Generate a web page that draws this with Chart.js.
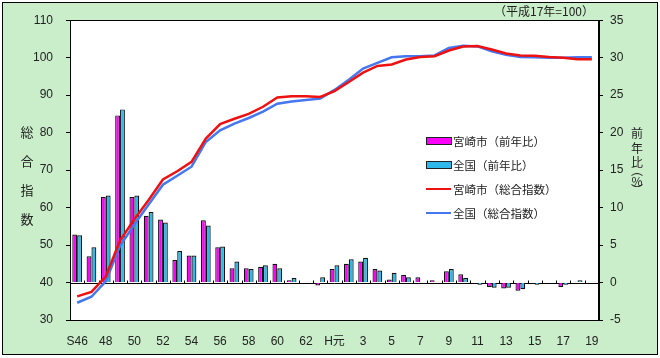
<!DOCTYPE html>
<html><head><meta charset="utf-8">
<script src="https://cdn.jsdelivr.net/npm/chart.js@4.4.0/dist/chart.umd.min.js"></script>
<style>html,body{margin:0;padding:0;background:#fff}</style>
</head><body>
<canvas id="c" width="660" height="358"></canvas>
<script>
const categories = ['S46','47','48','49','50','51','52','53','54','55','56','57','58','59','60','61','62','63',
  'H元','2','3','4','5','6','7','8','9','10','11','12','13','14','15','16','17','18','19'];
const miyazakiYoY = [6.4,3.5,11.4,22.3,11.4,8.9,8.4,3.0,3.6,8.3,4.7,1.9,1.9,2.1,2.5,0.3,-0.1,-0.4,
  1.8,2.5,2.8,1.8,0.4,1.0,0.7,0.3,1.5,1.1,-0.1,-0.6,-0.8,-1.1,-0.1,0.0,-0.6,0.1,0.0];
const zenkokuYoY = [6.3,4.7,11.6,23.1,11.6,9.4,8.0,4.2,3.6,7.6,4.8,2.8,1.8,2.3,1.9,0.6,0.1,0.7,
  2.3,3.1,3.3,1.6,1.3,0.7,-0.1,0.1,1.8,0.6,-0.3,-0.7,-0.7,-0.9,-0.3,-0.1,-0.3,0.3,0.1];
const miyazakiIndex = [36.3,37.5,41.6,51.2,56.9,62.0,67.5,69.7,72.2,78.4,82.3,83.7,85.0,86.9,89.4,89.7,89.7,89.5,
  91.1,93.5,96.0,97.8,98.2,99.5,100.2,100.4,101.9,103.0,103.1,102.2,101.1,100.6,100.5,100.2,100.0,99.6,99.6];
const zenkokuIndex = [34.6,36.2,40.3,49.8,55.5,60.8,66.1,68.5,70.9,77.5,80.6,82.4,83.9,85.6,87.7,88.3,88.7,89.1,
  91.4,94.1,97.1,98.6,100.1,100.4,100.4,100.6,102.6,103.2,103.0,101.7,100.8,100.2,100.1,100.0,100.0,100.1,100.1];
const leftTicks = {min:30, max:110, step:10};
const rightTicks = {min:-5, max:35, step:5};
const seriesLabels = ['宮崎市（前年比）','全国（前年比）','宮崎市（総合指数）','全国（総合指数）'];
const leftTitle = ['総','合','指','数'];
const rightTitle = ['前','年','比','︵','%','︶'];
const noteText = '（平成17年=100）';

const MAG = '#ff00ff', CYAN = '#2fb8ea', RED = '#ee1111', BLUE = '#4477f0';
const JP = "'Noto Sans CJK JP', sans-serif";
Chart.defaults.font.family = "'Liberation Sans','Noto Sans CJK JP',sans-serif";
Chart.defaults.font.size = 12;
Chart.defaults.color = '#222';

const decor = {
  id: 'decor',
  beforeDraw(chart) {
    const ctx = chart.ctx, a = chart.chartArea;
    ctx.save();
    ctx.fillStyle = '#fff'; ctx.fillRect(0,0,chart.width,chart.height);
    ctx.fillStyle = '#c9eec9'; ctx.fillRect(2,2,656,353);
    ctx.strokeStyle = '#000'; ctx.lineWidth = 1; ctx.strokeRect(2.5,2.5,655,352);
    ctx.fillStyle = '#fff'; ctx.fillRect(a.left,a.top,a.right-a.left,a.bottom-a.top);
    ctx.restore();
  },
  beforeDatasetsDraw(chart) {
    const ctx = chart.ctx, a = chart.chartArea, xs = chart.scales.x, y1 = chart.scales.y1;
    const y0 = Math.round(y1.getPixelForValue(0)) + 0.5;
    ctx.save();
    ctx.strokeStyle = '#000'; ctx.lineWidth = 1;
    ctx.beginPath(); ctx.moveTo(a.left,y0); ctx.lineTo(a.right,y0); ctx.stroke();
    for (let i = 1; i < categories.length; i++) {
      const x = Math.round((xs.getPixelForValue(i-1)+xs.getPixelForValue(i))/2) + 0.5;
      ctx.beginPath(); ctx.moveTo(x,y0); ctx.lineTo(x,y0-3); ctx.stroke();
    }
    ctx.restore();
  },
  afterDraw(chart) {
    const ctx = chart.ctx, a = chart.chartArea;
    ctx.save();
    ctx.strokeStyle = '#000'; ctx.lineWidth = 1;
    ctx.strokeRect(Math.round(a.left)+0.5, Math.round(a.top)+0.5, Math.round(a.right-a.left)-1, Math.round(a.bottom-a.top));
    ctx.fillStyle = '#222';
    ctx.textAlign = 'center'; ctx.textBaseline = 'middle';
    ctx.font = '13px ' + JP;
    leftTitle.forEach((ch,i) => ctx.fillText(ch, 27, 132 + i*29));
    ctx.font = '12px ' + JP;
    const ry = [133,148,162,170,181,190];
    rightTitle.forEach((ch,i) => ctx.fillText(ch, 637, ry[i]));
    ctx.font = '12px ' + JP; ctx.textAlign = 'right';
    ctx.fillText(noteText, 594, 11);
    // legend
    ctx.textAlign = 'left';
    ctx.font = '11.5px ' + JP;
    const ly = [141,165,189,213];
    chart.data.datasets.forEach((ds,i) => {
      const y = ly[i];
      if (ds.type === 'bar') {
        ctx.fillStyle = ds.backgroundColor;
        ctx.fillRect(426, y-3, 25, 6);
        ctx.strokeStyle = '#222'; ctx.strokeRect(426.5, y-3.5, 25, 7);
      } else {
        ctx.strokeStyle = ds.borderColor; ctx.lineWidth = 2;
        ctx.beginPath(); ctx.moveTo(426,y); ctx.lineTo(451,y); ctx.stroke();
        ctx.lineWidth = 1;
      }
      ctx.fillStyle = '#222';
      ctx.fillText(ds.label, 453, y+1);
    });
    ctx.restore();
  }
};

new Chart(document.getElementById('c'), {
  data: {
    labels: categories,
    datasets: [
      {type:'bar', label:seriesLabels[0], data:miyazakiYoY, yAxisID:'y1', backgroundColor:MAG, borderColor:'#111', borderWidth:1.2, order:2, categoryPercentage:0.68, barPercentage:1.0},
      {type:'bar', label:seriesLabels[1], data:zenkokuYoY, yAxisID:'y1', backgroundColor:CYAN, borderColor:'#111', borderWidth:1.2, order:2, categoryPercentage:0.68, barPercentage:1.0},
      {type:'line', label:seriesLabels[2], data:miyazakiIndex, yAxisID:'y', borderColor:RED, borderWidth:2.5, pointRadius:0, tension:0, order:0},
      {type:'line', label:seriesLabels[3], data:zenkokuIndex, yAxisID:'y', borderColor:BLUE, borderWidth:2.5, pointRadius:0, tension:0, order:1}
    ]
  },
  options: {
    responsive:false, animation:false, devicePixelRatio:1,
    layout:{padding:{top:17,left:0,right:0,bottom:0}},
    plugins:{legend:{display:false}, tooltip:{enabled:false}},
    scales:{
      x:{
        offset:true,
        grid:{display:false, drawTicks:false},
        border:{display:true, color:'#000'},
        ticks:{autoSkip:false, maxRotation:0, minRotation:0, padding:14, color:'#222',
          callback:(v,i) => i % 2 === 0 ? categories[i] : ''},
        afterFit:(s) => { s.height = 38; }
      },
      y:{
        position:'left', min:leftTicks.min, max:leftTicks.max,
        grid:{drawOnChartArea:false, drawTicks:true, tickLength:4, tickColor:'#000'},
        border:{display:true, color:'#000'},
        ticks:{stepSize:leftTicks.step, padding:13, color:'#222'},
        afterFit:(s) => { s.width = 70; }
      },
      y1:{
        position:'right', min:rightTicks.min, max:rightTicks.max,
        grid:{drawOnChartArea:false, drawTicks:true, tickLength:4, tickColor:'#000'},
        border:{display:true, color:'#000'},
        ticks:{stepSize:rightTicks.step, padding:7, color:'#222'},
        afterFit:(s) => { s.width = 61; }
      }
    }
  },
  plugins:[decor]
});
</script>
</body></html>
